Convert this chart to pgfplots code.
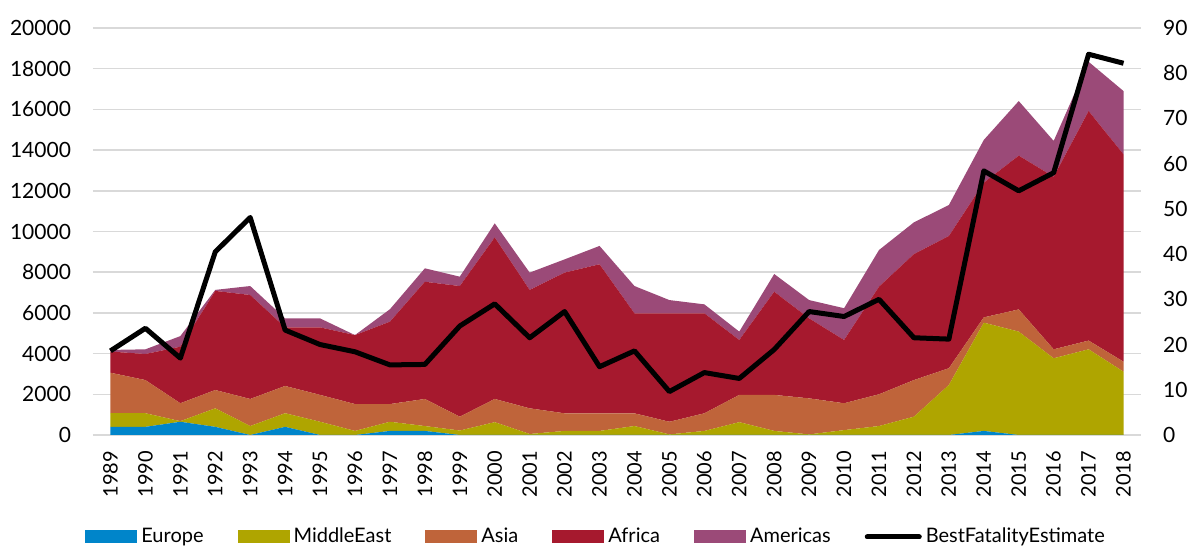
\documentclass[border=0pt]{standalone}
\usepackage{pgfplots}
\pgfplotsset{compat=1.18}
\usepackage{pgfplotstable}
\usepackage{fontspec}
\setmainfont{Lato}
\definecolor{cEu}{HTML}{0085CA}
\definecolor{cME}{HTML}{AFA500}
\definecolor{cAs}{HTML}{BF643A}
\definecolor{cAf}{HTML}{A6192E}
\definecolor{cAm}{HTML}{9B4A78}
\definecolor{cGrid}{HTML}{D9D9D9}
\pgfplotstableread{
year eu me as af am best
1989 400 670 1990 1040 80 18.6
1990 400 670 1630 1280 230 23.6
1991 650 30 880 2780 520 17.0
1992 400 910 900 4870 50 40.5
1993 0 440 1330 5110 440 48.1
1994 400 670 1340 2880 440 23.2
1995 0 650 1320 3320 440 20.0
1996 0 200 1320 3390 0 18.4
1997 200 450 870 4050 610 15.5
1998 200 240 1330 5760 660 15.6
1999 0 220 680 6420 460 24.1
2000 0 630 1140 7940 690 29.0
2001 0 50 1260 5820 850 21.5
2002 0 200 865 6915 650 27.3
2003 0 200 865 7325 900 15.1
2004 0 440 625 4915 1340 18.6
2005 0 30 620 5330 650 9.6
2006 0 200 865 4915 440 13.8
2007 0 630 1340 2700 410 12.5
2008 0 200 1770 5070 870 18.9
2009 0 30 1770 3930 900 27.3
2010 0 240 1320 3110 1560 26.2
2011 0 440 1560 5290 1800 30.0
2012 0 900 1800 6190 1560 21.5
2013 0 2460 820 6500 1520 21.2
2014 200 5320 260 6620 2100 58.4
2015 0 5080 1090 7560 2680 54.0
2016 0 3770 440 8480 1760 58.0
2017 0 4210 430 11280 2420 84.2
2018 0 3110 490 10190 3110 82.2
}\data
\begin{document}
\begin{tikzpicture}
\path[use as bounding box] (-46.5pt,-57pt) rectangle (547pt,217.5pt);
\begin{axis}[
  at={(0,0)}, anchor=south west,
  scale only axis, width=524pt, height=203.5pt,
  xmin=1988.5, xmax=2018.5, ymin=0, ymax=20000,
  stack plots=y,
  axis line style={draw=none},
  major tick length=0pt,
  ymajorgrids, grid style={cGrid, line width=0.75pt},
  ytick={0,2000,...,20000},
  xtick={1989,...,2018},
  /pgf/number format/.cd, 1000 sep={}, assume math mode=true,
  /pgfplots/.cd,
  scaled y ticks=false,
  tick label style={font=\fontsize{10.5}{12}\selectfont},
  yticklabel style={xshift=-7.5pt},
  xticklabel shift=4.5pt,
  xticklabel style={rotate=90, anchor=east, font=\fontsize{10}{12}\selectfont},
  legend columns=6,
  legend cell align=left,
  legend style={at={(0.481,-0.2506)}, anchor=center, draw=none, fill=none,
    font=\fontsize{10}{12}\selectfont,
    /tikz/every even column/.append style={column sep=15pt}},
  legend image code/.code={\fill[#1] (0pt,-3.25pt) rectangle (26pt,3.25pt);},
]
\addplot[fill=cEu, draw=none] table[x=year,y=eu]{\data} \closedcycle;
\addlegendentry{Europe}
\addplot[fill=cME, draw=none] table[x=year,y=me]{\data} \closedcycle;
\addlegendentry{MiddleEast}
\addplot[fill=cAs, draw=none] table[x=year,y=as]{\data} \closedcycle;
\addlegendentry{Asia}
\addplot[fill=cAf, draw=none] table[x=year,y=af]{\data} \closedcycle;
\addlegendentry{Africa}
\addplot[fill=cAm, draw=none] table[x=year,y=am]{\data} \closedcycle;
\addlegendentry{Americas}
\addlegendimage{legend image code/.code={\draw[black, line width=2.5pt, line cap=round] (0pt,0pt) -- (26pt,0pt);}}
\addlegendentry{BestFatalityEstimate}
\end{axis}
\begin{axis}[
  at={(0,0)}, anchor=south west,
  scale only axis, width=524pt, height=203.5pt,
  xmin=1988.5, xmax=2018.5, ymin=0, ymax=90,
  axis x line=none,
  axis y line*=right,
  y axis line style={draw=none},
  major tick length=0pt,
  ytick={0,10,...,90},
  /pgf/number format/assume math mode=true,
  tick label style={font=\fontsize{10.5}{12}\selectfont},
  yticklabel style={xshift=7.5pt},
]
\addplot[black, line width=2.5pt, line join=round] table[x=year,y=best]{\data};
\end{axis}
\end{tikzpicture}
\end{document}
